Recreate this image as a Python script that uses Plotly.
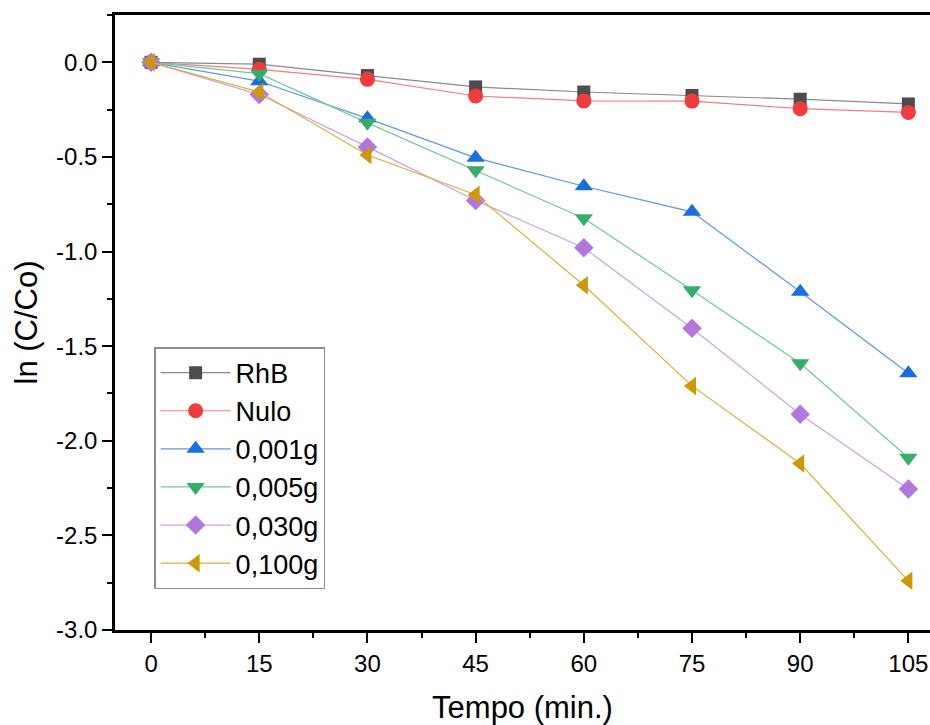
import plotly.graph_objects as go

time_min = [0, 15, 30, 45, 60, 75, 90, 105]

rhb = [0.0, -0.01, -0.07, -0.13, -0.157, -0.175, -0.195, -0.22]
nulo = [0.0, -0.037, -0.09, -0.178, -0.204, -0.205, -0.245, -0.265]
g0001 = [0.0, -0.1, -0.296, -0.505, -0.655, -0.79, -1.213, -1.643]
g0005 = [0.0, -0.06, -0.32, -0.57, -0.824, -1.205, -1.59, -2.09]
g0030 = [0.0, -0.17, -0.447, -0.73, -0.98, -1.405, -1.86, -2.255]
g0100 = [0.0, -0.157, -0.49, -0.70, -1.178, -1.71, -2.12, -2.74]

series_names = ["RhB", "Nulo", "0,001g", "0,005g", "0,030g", "0,100g"]
series_values = [rhb, nulo, g0001, g0005, g0030, g0100]
marker_colors = ["#4d4d4d", "#f03c3f", "#1a6fdf", "#37ad6b", "#b177de", "#cc9900"]
line_colors = ["#8a8a8a", "#f47f80", "#5c98e6", "#77c79a", "#cba2ea", "#d9b040"]
symbols = ["square", "circle", "triangle-up", "triangle-down", "diamond", "triangle-left"]
sizes = [13, 15, 16, 16, 15, 16]

x_tickvals = [0, 15, 30, 45, 60, 75, 90, 105]
x_ticktext = ["0", "15", "30", "45", "60", "75", "90", "105"]
y_tickvals = [0.0, -0.5, -1.0, -1.5, -2.0, -2.5, -3.0]
y_ticktext = ["0.0", "-0.5", "-1.0", "-1.5", "-2.0", "-2.5", "-3.0"]

FONT = "Liberation Sans, Arial, sans-serif"

fig = go.Figure()
for name, vals, mc, lc, sym, sz in zip(series_names, series_values, marker_colors,
                                       line_colors, symbols, sizes):
    fig.add_trace(go.Scatter(
        x=time_min, y=vals, name=name, mode="lines+markers",
        line=dict(color=lc, width=1.2),
        marker=dict(symbol=sym, size=sz, color=mc, line=dict(width=0)),
    ))

fig.update_layout(
    width=930, height=725,
    margin=dict(l=115, r=0, t=15, b=95),
    paper_bgcolor="white", plot_bgcolor="white",
    font=dict(family=FONT, color="black", size=24),
    showlegend=True,
    legend=dict(
        x=0.048, y=0.46, xanchor="left", yanchor="top",
        bgcolor="white", bordercolor="#8c8c8c", borderwidth=1.5,
        font=dict(size=27, family=FONT),
        itemwidth=70, tracegroupgap=0,
    ),
    xaxis=dict(
        range=[-5, 108.0], tickvals=x_tickvals, ticktext=x_ticktext,
        ticks="outside", ticklen=10, tickwidth=2, tickcolor="black",
        showline=True, linecolor="black", linewidth=2.5, mirror=True,
        showgrid=False, zeroline=False, automargin=False,
        tickfont=dict(size=24),
        minor=dict(dtick=7.5, tick0=0, ticks="outside", ticklen=5, tickwidth=2,
                   tickcolor="black", showgrid=False),
        title=dict(text="Tempo (min.)", font=dict(size=31), standoff=25),
    ),
    yaxis=dict(
        range=[-3.0, 0.25], tickvals=y_tickvals, ticktext=y_ticktext,
        ticks="outside", ticklen=10, tickwidth=2, tickcolor="black",
        showline=True, linecolor="black", linewidth=2.5, mirror=False,
        showgrid=False, zeroline=False, automargin=False,
        tickfont=dict(size=24),
        minor=dict(dtick=0.25, tick0=0, ticks="outside", ticklen=5, tickwidth=2,
                   tickcolor="black", showgrid=False),
        title=dict(text="ln (C/Co)", font=dict(size=31), standoff=10),
    ),
)

fig.write_html("out.html")
